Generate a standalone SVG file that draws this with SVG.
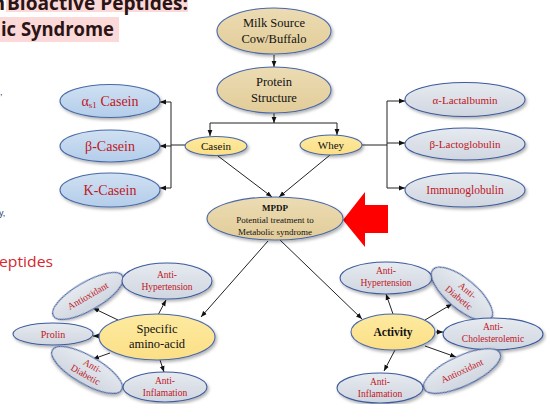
<svg xmlns="http://www.w3.org/2000/svg" width="547" height="404" viewBox="0 0 547 404">
<defs>
<style>
.tan{fill:url(#gTan);stroke:#4a68a6;stroke-width:1.1}
.yel{fill:url(#gYel);stroke:#4a68a6;stroke-width:1.1}
.blu{fill:url(#gBlu);stroke:#4a6aa6;stroke-width:1.1}
.gry{fill:url(#gGry);stroke:#3d5b9c;stroke-width:1.1}
.sh{filter:url(#ds)}
.t{font-family:"Liberation Serif","Times New Roman",serif;text-anchor:middle;fill:#111}
.r{font-family:"Liberation Serif","Times New Roman",serif;text-anchor:middle;fill:#c0161e}
.c path{fill:none;stroke:#222;stroke-width:1;marker-end:url(#ah)}
.c .n{marker-end:none}
.slide{font-family:"Open Sans","Liberation Sans",sans-serif;font-weight:700;fill:#2b1414}
</style>
<linearGradient id="gTan" x1="0" y1="0" x2="0" y2="1"><stop offset="0" stop-color="#ecdcb4"/><stop offset="1" stop-color="#e2cc98"/></linearGradient>
<linearGradient id="gYel" x1="0" y1="0" x2="0" y2="1"><stop offset="0" stop-color="#fdeaa0"/><stop offset="1" stop-color="#fbdf86"/></linearGradient>
<linearGradient id="gBlu" x1="0" y1="0" x2="0" y2="1"><stop offset="0" stop-color="#cfe0f2"/><stop offset="1" stop-color="#b3cdea"/></linearGradient>
<linearGradient id="gGry" x1="0" y1="0" x2="0" y2="1"><stop offset="0" stop-color="#e6eaf0"/><stop offset="1" stop-color="#d0d6e0"/></linearGradient>
<filter id="ds" x="-20%" y="-30%" width="140%" height="170%"><feDropShadow dx="1.5" dy="2" stdDeviation="1.5" flood-color="#000" flood-opacity="0.3"/></filter>
<marker id="ah" viewBox="0 0 10 10" refX="10" refY="5" markerWidth="6" markerHeight="6" markerUnits="userSpaceOnUse" orient="auto"><path d="M0,1 L10,5 L0,9 z" fill="#111"/></marker>
</defs>
<rect width="547" height="404" fill="#fff"/>

<g id="slide-text">
<rect x="6" y="0" width="182" height="12" fill="#fcd9d9"/>
<text class="slide" x="-8" y="10" font-size="20">n</text>
<text class="slide" x="7" y="10" font-size="20" textLength="181" lengthAdjust="spacingAndGlyphs">Bioactive Peptides:</text>
<rect x="0" y="17" width="119" height="25" fill="#fcd9d9"/>
<text class="slide" x="1" y="36" font-size="20" textLength="113" lengthAdjust="spacingAndGlyphs">ic Syndrome</text>
<text x="-3" y="95" font-family="Liberation Sans,sans-serif" font-size="9" fill="#1f3a6a">),</text>
<text x="-1" y="216" font-family="Liberation Sans,sans-serif" font-size="9" fill="#1f3a6a">y,</text>
<text x="-1" y="267" font-family="Open Sans,Liberation Sans,sans-serif" font-size="15" fill="#d7262e" textLength="54" lengthAdjust="spacingAndGlyphs">eptides</text>
</g>

<g id="connectors" class="c">
<path d="M274,55 L274,67"/>
<path d="M274,112 L274,123"/>
<path class="n" d="M210,123 L337,123"/>
<path d="M210,123 L210,136"/>
<path d="M337,123 L337,135"/>
<path class="n" d="M185,145 L171,145"/>
<path class="n" d="M171,102 L171,188"/>
<path d="M171,102 L160,102"/>
<path d="M171,146 L160,146"/>
<path d="M171,188 L160,188"/>
<path class="n" d="M362,145 L387,145"/>
<path class="n" d="M387,101 L387,188"/>
<path d="M387,101 L405,101"/>
<path d="M387,143 L405,143"/>
<path d="M387,188 L405,188"/>
<path d="M218,156 L272,197"/>
<path d="M330,155 L279,197"/>
<path d="M268,241 L201,317"/>
<path d="M280,240 L362,319"/>
<path d="M118,320 L93,308"/>
<path d="M158,315 L166,300"/>
<path d="M100,336 L93,336"/>
<path d="M110,353 L93,359"/>
<path d="M160,360 L164,372"/>
<path d="M393,314 L386,294"/>
<path d="M425,320 L452,304"/>
<path d="M436,332 L443,332"/>
<path d="M425,346 L456,357"/>
<path d="M395,350 L384,371"/>
</g>

<g id="red-arrow"><polygon points="343,220 365,192 365,205 388,205 388,233 365,233 365,247" fill="#ff0000"/></g>

<g id="milk"><ellipse class="tan sh" cx="274" cy="31" rx="57" ry="23"/><text class="t" x="274" y="27" font-size="12.5">Milk Source</text><text class="t" x="274" y="43" font-size="12.5">Cow/Buffalo</text></g>
<g id="protein"><ellipse class="tan sh" cx="274" cy="90" rx="57" ry="23"/><text class="t" x="274" y="86" font-size="12.5">Protein</text><text class="t" x="274" y="102" font-size="12.5">Structure</text></g>
<g id="casein"><ellipse class="yel sh" cx="216" cy="146" rx="31" ry="9.5"/><text class="t" x="216" y="150" font-size="11">Casein</text></g>
<g id="whey"><ellipse class="yel sh" cx="331" cy="145" rx="31" ry="10"/><text class="t" x="331" y="149" font-size="11">Whey</text></g>
<g id="as1-casein"><ellipse class="blu sh" cx="110" cy="101" rx="50" ry="16.5"/><text class="r" x="110" y="106" font-size="14">α<tspan font-size="9" dy="2">s1</tspan><tspan dy="-2"> Casein</tspan></text></g>
<g id="b-casein"><ellipse class="blu sh" cx="110" cy="146" rx="50" ry="16"/><text class="r" x="110" y="151" font-size="14">β-Casein</text></g>
<g id="k-casein"><ellipse class="blu sh" cx="110" cy="190" rx="50" ry="17"/><text class="r" x="110" y="195" font-size="14">K-Casein</text></g>
<g id="a-lactalbumin"><ellipse class="gry sh" cx="465" cy="99.5" rx="60" ry="17"/><text class="r" x="465" y="103.5" font-size="11">α-Lactalbumin</text></g>
<g id="b-lactoglobulin"><ellipse class="gry sh" cx="465" cy="144" rx="60" ry="16"/><text class="r" x="465" y="148" font-size="11">β-Lactoglobulin</text></g>
<g id="immunoglobulin"><ellipse class="gry sh" cx="465" cy="190" rx="60" ry="17"/><text class="r" x="465" y="194" font-size="11.5">Immunoglobulin</text></g>
<g id="mpdp"><ellipse class="tan sh" cx="275" cy="218.5" rx="68" ry="21.5"/><text class="t" x="275" y="211" font-size="9" font-weight="bold">MPDP</text><text class="t" x="275" y="223" font-size="9">Potential treatment to</text><text class="t" x="275" y="235" font-size="9">Metabolic syndrome</text></g>

<g id="specific"><ellipse class="yel sh" cx="157" cy="337" rx="58" ry="23"/><text class="t" x="157" y="333" font-size="12.5">Specific</text><text class="t" x="157" y="348" font-size="12.5">amino-acid</text></g>
<g id="antioxidant-l"><g transform="rotate(-30 88 296)"><ellipse class="gry sh" cx="88" cy="296" rx="40" ry="14"/><text class="r" x="88" y="299" font-size="9.5">Antioxidant</text></g></g>
<g id="antihyp-l"><ellipse class="gry sh" cx="167" cy="281" rx="45" ry="18"/><text class="r" x="167" y="278" font-size="9.5">Anti-</text><text class="r" x="167" y="290" font-size="9.5">Hypertension</text></g>
<g id="prolin"><ellipse class="gry sh" cx="53" cy="334" rx="40" ry="11"/><text class="r" x="53" y="337.5" font-size="10">Prolin</text></g>
<g id="antidiab-l"><g transform="rotate(30 87 370)"><ellipse class="gry sh" cx="87" cy="370" rx="40" ry="14"/><text class="r" x="90" y="367" font-size="9.5">Anti-</text><text class="r" x="88" y="378" font-size="9.5">Diabetic</text></g></g>
<g id="antiinfl-l"><ellipse class="gry sh" cx="165" cy="387" rx="42" ry="15"/><text class="r" x="165" y="384" font-size="9.5">Anti-</text><text class="r" x="165" y="396" font-size="9.5">Inflamation</text></g>

<g id="activity"><ellipse class="yel sh" cx="393" cy="332" rx="42" ry="18"/><text class="t" x="393" y="336" font-size="11.5" font-weight="bold">Activity</text></g>
<g id="antihyp-r"><ellipse class="gry sh" cx="386" cy="278" rx="46" ry="16"/><text class="r" x="386" y="274" font-size="9.5">Anti-</text><text class="r" x="386" y="286" font-size="9.5">Hypertension</text></g>
<g id="antidiab-r"><g transform="rotate(40 462 294)"><ellipse class="gry sh" cx="462" cy="294" rx="38" ry="15"/><text class="r" x="464" y="291" font-size="9.5">Anti-</text><text class="r" x="462" y="302" font-size="9.5">Diabetic</text></g></g>
<g id="antichol"><ellipse class="gry sh" cx="493" cy="334" rx="50" ry="16"/><text class="r" x="493" y="330" font-size="9.5">Anti-</text><text class="r" x="493" y="342" font-size="9.5">Cholesterolemic</text></g>
<g id="antioxidant-r"><g transform="rotate(-25 462 371)"><ellipse class="gry sh" cx="462" cy="371" rx="42" ry="15"/><text class="r" x="462" y="374" font-size="9.5">Antioxidant</text></g></g>
<g id="antiinfl-r"><ellipse class="gry sh" cx="380" cy="388" rx="43" ry="15"/><text class="r" x="380" y="385" font-size="9.5">Anti-</text><text class="r" x="380" y="397" font-size="9.5">Inflamation</text></g>
</svg>
